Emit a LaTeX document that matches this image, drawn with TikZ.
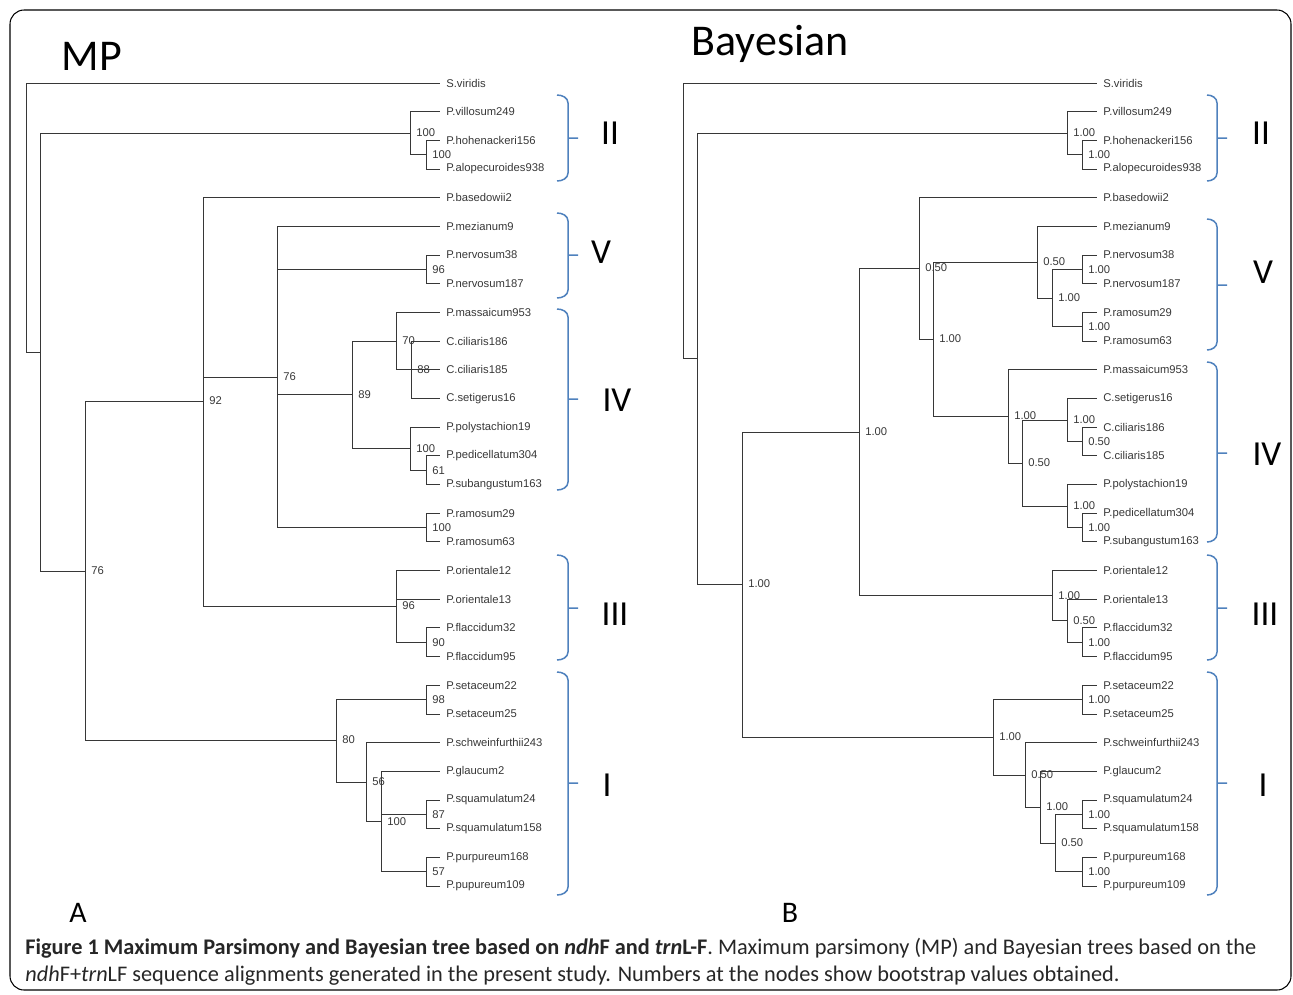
\documentclass[tikz,border=0pt]{standalone}
\usepackage{fontspec}
\setmainfont{Liberation Sans}
\newfontfamily\titlefont{Carlito}
\usepackage{xcolor}
\definecolor{cladeblue}{RGB}{79,129,189}
\definecolor{treegray}{RGB}{55,55,55}

\begin{document}
\begin{tikzpicture}[
    x=0.02cm, y=-0.02cm,
    branch/.style={draw=treegray, line width=0.5pt},
    leaf/.style={anchor=west, inner xsep=3.4pt, inner ysep=0pt, text=treegray, font=\fontsize{6.4}{7}\selectfont},
    bs/.style={inner xsep=3.4pt, inner ysep=0pt, text=treegray, font=\fontsize{6.4}{7}\selectfont},
    cladebar/.style={draw=cladeblue, line width=0.85pt},
    clade/.style={inner sep=0pt, font=\titlefont\fontsize{20}{20}\selectfont},
    title/.style={inner sep=0pt, font=\titlefont\fontsize{25}{25}\selectfont},
    panel/.style={inner sep=0pt, font=\titlefont\fontsize{17}{17}\selectfont}
]
\useasboundingbox (0,0) rectangle (1293,994);
\draw[line width=0.6pt, rounded corners=8pt] (10,10) rectangle (1291,990);

% Titles
\node[title] (mptitle) at (92,56) {MP};
\node[title] (baytitle) at (770,44) {Bayesian};
\node[panel] (panelA) at (78,913) {A};
\node[panel] (panelB) at (790,913) {B};

% MP leaves
\node[leaf] (mL1) at (440,83) {S.viridis};
\node[leaf] (mL2) at (440,111.7) {P.villosum249};
\node[leaf] (mL3) at (440,140.4) {P.hohenackeri156};
\node[leaf] (mL4) at (440,169) {P.alopecuroides938};
\node[leaf] (mL5) at (440,197.7) {P.basedowii2};
\node[leaf] (mL6) at (440,226.4) {P.mezianum9};
\node[leaf] (mL7) at (440,255.1) {P.nervosum38};
\node[leaf] (mL8) at (440,283.8) {P.nervosum187};
\node[leaf] (mL9) at (440,312.4) {P.massaicum953};
\node[leaf] (mL10) at (440,341.1) {C.ciliaris186};
\node[leaf] (mL11) at (440,369.8) {C.ciliaris185};
\node[leaf] (mL12) at (440,398.5) {C.setigerus16};
\node[leaf] (mL13) at (440,427.2) {P.polystachion19};
\node[leaf] (mL14) at (440,455.8) {P.pedicellatum304};
\node[leaf] (mL15) at (440,484.5) {P.subangustum163};
\node[leaf] (mL16) at (440,513.2) {P.ramosum29};
\node[leaf] (mL17) at (440,541.9) {P.ramosum63};
\node[leaf] (mL18) at (440,570.6) {P.orientale12};
\node[leaf] (mL19) at (440,599.2) {P.orientale13};
\node[leaf] (mL20) at (440,627.9) {P.flaccidum32};
\node[leaf] (mL21) at (440,656.6) {P.flaccidum95};
\node[leaf] (mL22) at (440,685.3) {P.setaceum22};
\node[leaf] (mL23) at (440,714) {P.setaceum25};
\node[leaf] (mL24) at (440,742.6) {P.schweinfurthii243};
\node[leaf] (mL25) at (440,771.3) {P.glaucum2};
\node[leaf] (mL26) at (440,800) {P.squamulatum24};
\node[leaf] (mL27) at (440,828.7) {P.squamulatum158};
\node[leaf] (mL28) at (440,857.4) {P.purpureum168};
\node[leaf] (mL29) at (440,886) {P.pupureum109};

% MP inner nodes
\coordinate (m0) at (26,352);
\coordinate (m1) at (40,352);
\coordinate[label={[bs]0:100}] (m2) at (410,133);
\coordinate[label={[bs]0:100}] (m2a) at (426,154.7);
\coordinate[label={[bs]0:76}] (m3) at (85,571);
\coordinate[label={[bs]0:92}] (m4) at (203,401);
\coordinate[label={[bs]0:76}] (m5) at (277,377);
\coordinate[label={[bs]0:96}] (m5a) at (426,269.5);
\coordinate[label={[bs]0:89}] (m6) at (352,394.5);
\coordinate[label={[bs]0:70}] (m7) at (396,341);
\coordinate[label={[bs]0:88}] (m7a) at (411,369.8);
\coordinate[label={[bs]0:100}] (m8) at (410,448.6);
\coordinate[label={[bs]0:61}] (m8a) at (426,470.2);
\coordinate[label={[bs]0:100}] (m5b) at (426,527.5);
\coordinate[label={[bs]0:96}] (m9) at (396,606);
\coordinate[label={[bs]0:90}] (m9a) at (426,642.3);
\coordinate[label={[bs]0:80}] (m10) at (336,740);
\coordinate[label={[bs]0:98}] (m10a) at (426,699.6);
\coordinate[label={[bs]0:56}] (m11) at (366,782);
\coordinate[label={[bs]0:100}] (m12) at (381,821.5);
\coordinate[label={[bs]0:87}] (m12a) at (426,814.4);
\coordinate[label={[bs]0:57}] (m12b) at (426,871.7);

% MP branches
\draw[branch] (m0) |- (mL1.west) (m0) -- (m1)
  (m1) |- (m2) (m1) |- (m3)
  (m2) |- (mL2.west) (m2) |- (m2a) (m2a) |- (mL3.west) (m2a) |- (mL4.west)
  (m3) |- (m4) (m3) |- (m10)
  (m4) |- (mL5.west) (m4) |- (m5) (m4) |- (m9)
  (m5) |- (mL6.west) (m5) |- (m5a) (m5) |- (m6) (m5) |- (m5b)
  (m5a) |- (mL7.west) (m5a) |- (mL8.west)
  (m6) |- (m7) (m6) |- (m8)
  (m7) |- (mL9.west) (m7) |- (mL11.west)
  (m7a) |- (mL10.west) (m7a) |- (mL12.west)
  (m8) |- (mL13.west) (m8) |- (m8a) (m8a) |- (mL14.west) (m8a) |- (mL15.west)
  (m5b) |- (mL16.west) (m5b) |- (mL17.west)
  (m9) |- (mL18.west) (m9) |- (mL19.west) (m9) |- (m9a)
  (m9a) |- (mL20.west) (m9a) |- (mL21.west)
  (m10) |- (m10a) (m10) |- (m11)
  (m10a) |- (mL22.west) (m10a) |- (mL23.west)
  (m11) |- (mL24.west) (m11) |- (m12)
  (m12) |- (mL25.west) (m12) |- (m12a) (m12) |- (m12b)
  (m12a) |- (mL26.west) (m12a) |- (mL27.west)
  (m12b) |- (mL28.west) (m12b) |- (mL29.west);

% MP clades
\draw[cladebar] (557,95) to[out=0,in=90] (568,103) -- (568,173) to[out=-90,in=0] (557,181) (568,138) -- (578,138);
\draw[cladebar] (557,213) to[out=0,in=90] (568,221) -- (568,290) to[out=-90,in=0] (557,298) (568,255) -- (578,255);
\draw[cladebar] (557,309) to[out=0,in=90] (568,317) -- (568,482) to[out=-90,in=0] (557,490) (568,399) -- (578,399);
\draw[cladebar] (557,555) to[out=0,in=90] (568,563) -- (568,652) to[out=-90,in=0] (557,660) (568,608) -- (578,608);
\draw[cladebar] (557,672) to[out=0,in=90] (568,680) -- (568,887) to[out=-90,in=0] (557,895) (568,783) -- (578,783);
\node[clade] (mcII) at (610,133) {II};
\node[clade] (mcV) at (601,252) {V};
\node[clade] (mcIV) at (617,400) {IV};
\node[clade] (mcIII) at (615,614) {III};
\node[clade] (mcI) at (607,785) {I};

% Bayesian leaves
\node[leaf] (bL1) at (1097,83) {S.viridis};
\node[leaf] (bL2) at (1097,111.7) {P.villosum249};
\node[leaf] (bL3) at (1097,140.4) {P.hohenackeri156};
\node[leaf] (bL4) at (1097,169) {P.alopecuroides938};
\node[leaf] (bL5) at (1097,197.7) {P.basedowii2};
\node[leaf] (bL6) at (1097,226.4) {P.mezianum9};
\node[leaf] (bL7) at (1097,255.1) {P.nervosum38};
\node[leaf] (bL8) at (1097,283.8) {P.nervosum187};
\node[leaf] (bL9) at (1097,312.4) {P.ramosum29};
\node[leaf] (bL10) at (1097,341.1) {P.ramosum63};
\node[leaf] (bL11) at (1097,369.8) {P.massaicum953};
\node[leaf] (bL12) at (1097,398.5) {C.setigerus16};
\node[leaf] (bL13) at (1097,427.2) {C.ciliaris186};
\node[leaf] (bL14) at (1097,455.8) {C.ciliaris185};
\node[leaf] (bL15) at (1097,484.5) {P.polystachion19};
\node[leaf] (bL16) at (1097,513.2) {P.pedicellatum304};
\node[leaf] (bL17) at (1097,541.9) {P.subangustum163};
\node[leaf] (bL18) at (1097,570.6) {P.orientale12};
\node[leaf] (bL19) at (1097,599.2) {P.orientale13};
\node[leaf] (bL20) at (1097,627.9) {P.flaccidum32};
\node[leaf] (bL21) at (1097,656.6) {P.flaccidum95};
\node[leaf] (bL22) at (1097,685.3) {P.setaceum22};
\node[leaf] (bL23) at (1097,714) {P.setaceum25};
\node[leaf] (bL24) at (1097,742.6) {P.schweinfurthii243};
\node[leaf] (bL25) at (1097,771.3) {P.glaucum2};
\node[leaf] (bL26) at (1097,800) {P.squamulatum24};
\node[leaf] (bL27) at (1097,828.7) {P.squamulatum158};
\node[leaf] (bL28) at (1097,857.4) {P.purpureum168};
\node[leaf] (bL29) at (1097,886) {P.purpureum109};

% Bayesian inner nodes
\coordinate (b0) at (683,358);
\coordinate (b1) at (697,358);
\coordinate[label={[bs]0:1.00}] (b2) at (1067,133);
\coordinate[label={[bs]0:1.00}] (b2a) at (1082,154.7);
\coordinate[label={[bs]0:1.00}] (b3) at (742,584);
\coordinate[label={[bs]0:1.00}] (b4) at (859,432);
\coordinate[label={[bs]0:0.50}] (b5) at (919,268);
\coordinate[label={[bs]0:1.00}] (b6) at (933,339);
\coordinate[label={[bs]0:0.50}] (b7) at (1037,262);
\coordinate[label={[bs]0:1.00}] (b7a) at (1052,298);
\coordinate[label={[bs]0:1.00}] (b7b) at (1082,269.5);
\coordinate[label={[bs]0:1.00}] (b7c) at (1082,326.8);
\coordinate[label={[bs]0:1.00}] (b8) at (1008,416);
\coordinate[label={[bs]0:0.50}] (b9) at (1022,463);
\coordinate[label={[bs]0:1.00}] (b9a) at (1067,420);
\coordinate[label={[bs]0:0.50}] (b9b) at (1082,441.5);
\coordinate[label={[bs]0:1.00}] (b9c) at (1067,506);
\coordinate[label={[bs]0:1.00}] (b9d) at (1082,527.5);
\coordinate[label={[bs]0:1.00}] (b10) at (1052,595.5);
\coordinate[label={[bs]0:0.50}] (b10a) at (1067,620.6);
\coordinate[label={[bs]0:1.00}] (b10b) at (1082,642.3);
\coordinate[label={[bs]0:1.00}] (b12) at (993,737);
\coordinate[label={[bs]0:1.00}] (b12a) at (1082,699.6);
\coordinate[label={[bs]0:0.50}] (b13) at (1025,775);
\coordinate[label={[bs]0:1.00}] (b14) at (1040,807);
\coordinate[label={[bs]0:0.50}] (b15) at (1055,843);
\coordinate[label={[bs]0:1.00}] (b15a) at (1082,814.4);
\coordinate[label={[bs]0:1.00}] (b15b) at (1082,871.7);

% Bayesian branches
\draw[branch] (b0) |- (bL1.west) (b0) -- (b1)
  (b1) |- (b2) (b1) |- (b3)
  (b2) |- (bL2.west) (b2) |- (b2a) (b2a) |- (bL3.west) (b2a) |- (bL4.west)
  (b3) |- (b4) (b3) |- (b12)
  (b4) |- (b5) (b4) |- (b10)
  (b5) |- (bL5.west) (b5) |- (b6)
  (b6) |- (b7) (b6) |- (b8)
  (b7) |- (bL6.west) (b7) |- (b7a)
  (b7a) |- (b7b) (b7a) |- (b7c)
  (b7b) |- (bL7.west) (b7b) |- (bL8.west)
  (b7c) |- (bL9.west) (b7c) |- (bL10.west)
  (b8) |- (bL11.west) (b8) |- (b9)
  (b9) |- (b9a) (b9) |- (b9c)
  (b9a) |- (bL12.west) (b9a) |- (b9b) (b9b) |- (bL13.west) (b9b) |- (bL14.west)
  (b9c) |- (bL15.west) (b9c) |- (b9d) (b9d) |- (bL16.west) (b9d) |- (bL17.west)
  (b10) |- (bL18.west) (b10) |- (b10a)
  (b10a) |- (bL19.west) (b10a) |- (b10b) (b10b) |- (bL20.west) (b10b) |- (bL21.west)
  (b12) |- (b12a) (b12) |- (b13)
  (b12a) |- (bL22.west) (b12a) |- (bL23.west)
  (b13) |- (bL24.west) (b13) |- (b14)
  (b14) |- (bL25.west) (b14) |- (b15)
  (b15) |- (b15a) (b15) |- (b15b)
  (b15a) |- (bL26.west) (b15a) |- (bL27.west)
  (b15b) |- (bL28.west) (b15b) |- (bL29.west);

% Bayesian clades
\draw[cladebar] (1207,95) to[out=0,in=90] (1217,103) -- (1217,173) to[out=-90,in=0] (1207,181) (1217,138) -- (1227,138);
\draw[cladebar] (1207,219) to[out=0,in=90] (1217,227) -- (1217,342) to[out=-90,in=0] (1207,350) (1217,285) -- (1227,285);
\draw[cladebar] (1207,362) to[out=0,in=90] (1217,370) -- (1217,534) to[out=-90,in=0] (1207,542) (1217,453) -- (1227,453);
\draw[cladebar] (1207,555) to[out=0,in=90] (1217,563) -- (1217,652) to[out=-90,in=0] (1207,660) (1217,608) -- (1227,608);
\draw[cladebar] (1207,672) to[out=0,in=90] (1217,680) -- (1217,887) to[out=-90,in=0] (1207,895) (1217,783) -- (1227,783);
\node[clade] (bcII) at (1261,133) {II};
\node[clade] (bcV) at (1263,272) {V};
\node[clade] (bcIV) at (1267,454) {IV};
\node[clade] (bcIII) at (1265,614) {III};
\node[clade] (bcI) at (1263,785) {I};

% Caption
\node[anchor=north west, inner sep=0pt, align=left, text=black!85,
      font=\titlefont\fontsize{12.7}{15.3}\selectfont] (caption) at (25,938)
  {{\bfseries Figure 1 Maximum Parsimony and Bayesian tree based on \textit{ndh}F and \textit{trn}L-F}. Maximum parsimony (MP) and Bayesian trees based on the\\
   \textit{ndh}F+\textit{trn}LF sequence alignments generated in the present study. Numbers at the nodes show bootstrap values obtained.};
\end{tikzpicture}
\end{document}
